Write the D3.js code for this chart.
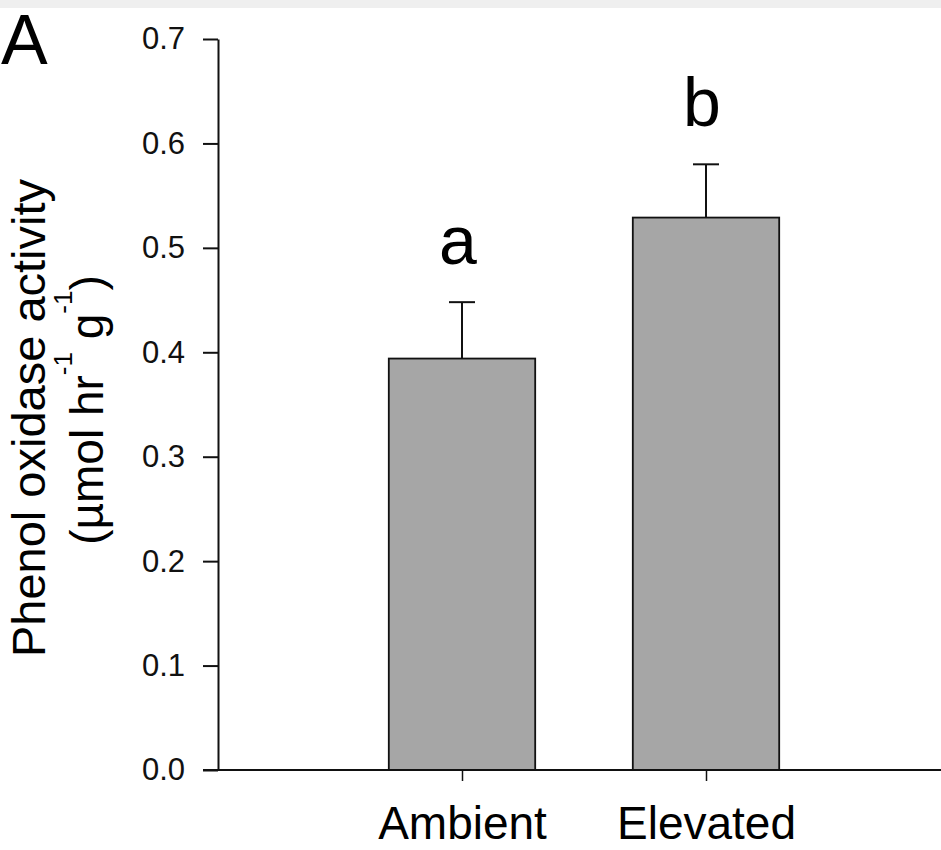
<!DOCTYPE html>
<html>
<head>
<meta charset="utf-8">
<script src="https://cdn.jsdelivr.net/npm/d3@7"></script>
<style>
  body { margin: 0; background: #fff; }
  svg { display: block; overflow: hidden; font-family: Arial, "Liberation Sans", Helvetica, sans-serif; }
</style>
</head>
<body>
<div id="chart"></div>
<script>

const categories = ["Ambient", "Elevated"];
const means = [0.394, 0.529];
const errors = [0.054, 0.051];
const letters = ["a", "b"];
const yTicks = [0.0, 0.1, 0.2, 0.3, 0.4, 0.5, 0.6, 0.7];

function drawChart() {

    const dimesions = {
        width: 941,
        height: 850,
        axisLeft: 218,
        axisRight: 950,
        top: 39,
        bottom: 770
    }

    const svg = d3.select("#chart")
        .append("svg")
        .attr("width", dimesions.width)
        .attr("height", dimesions.height);

    // faint scan strip at the top
    svg.append("rect")
        .attr("x", 0).attr("y", 0)
        .attr("width", dimesions.width).attr("height", 8)
        .attr("fill", "#efefef");

    const xScale = d3.scalePoint()
        .domain(categories)
        .range([dimesions.axisLeft, dimesions.axisRight])
        .padding(1);

    const yScale = d3.scaleLinear()
        .domain([0, 0.7])
        .range([dimesions.bottom, dimesions.top]);

    const barWidth = xScale.step() * 0.6;
    const capWidth = 26;

    const data = categories.map((c, i) => ({ cat: c, mean: means[i], err: errors[i], letter: letters[i] }));

    // error bars (upper only)
    svg.append("g")
        .selectAll("line")
        .data(data)
        .join("line")
        .attr("x1", d => xScale(d.cat))
        .attr("x2", d => xScale(d.cat))
        .attr("y1", d => yScale(d.mean))
        .attr("y2", d => yScale(d.mean + d.err))
        .attr("stroke", "#111")
        .attr("stroke-width", 2);

    svg.append("g")
        .selectAll("line")
        .data(data)
        .join("line")
        .attr("x1", d => xScale(d.cat) - capWidth / 2)
        .attr("x2", d => xScale(d.cat) + capWidth / 2)
        .attr("y1", d => yScale(d.mean + d.err))
        .attr("y2", d => yScale(d.mean + d.err))
        .attr("stroke", "#111")
        .attr("stroke-width", 2);

    // bars
    svg.append("g")
        .selectAll("rect")
        .data(data)
        .join("rect")
        .attr("x", d => xScale(d.cat) - barWidth / 2)
        .attr("y", d => yScale(d.mean))
        .attr("width", barWidth)
        .attr("height", d => yScale(0) - yScale(d.mean))
        .attr("fill", "#a6a6a6")
        .attr("stroke", "#111")
        .attr("stroke-width", 1.8);

    // significance letters
    svg.append("g")
        .selectAll("text")
        .data(data)
        .join("text")
        .attr("x", d => xScale(d.cat) - 4)
        .attr("y", d => yScale(d.mean + d.err) - 38)
        .attr("text-anchor", "middle")
        .attr("font-size", 68)
        .attr("fill", "#000")
        .text(d => d.letter);

    // axes
    const yAxis = d3.axisLeft(yScale)
        .tickValues(yTicks)
        .tickFormat(d3.format(".1f"))
        .tickSize(15)
        .tickSizeOuter(0)
        .tickPadding(18);

    const yAxisGroup = svg.append("g")
        .attr("transform", `translate(${dimesions.axisLeft}, 0)`)
        .call(yAxis);

    yAxisGroup.selectAll("path, line").attr("stroke", "#111").attr("stroke-width", 2);
    yAxisGroup.selectAll("text").attr("font-size", 31).attr("font-family", "inherit").attr("fill", "#111");

    const xAxis = d3.axisBottom(xScale)
        .tickSize(11)
        .tickSizeOuter(0);

    const xAxisGroup = svg.append("g")
        .attr("transform", `translate(0, ${dimesions.bottom})`)
        .call(xAxis);

    xAxisGroup.select(".domain")
        .attr("d", `M${dimesions.axisLeft - 15},0H${dimesions.axisRight}`)
        .attr("stroke", "#111").attr("stroke-width", 2);
    xAxisGroup.selectAll("line").attr("stroke", "#111").attr("stroke-width", 1.5);
    xAxisGroup.selectAll("text")
        .attr("font-size", 46)
        .attr("font-family", "inherit")
        .attr("fill", "#000")
        .attr("dy", 0)
        .attr("y", 69);

    // y label
    svg.append("text")
        .attr("transform", "translate(45, 418) rotate(-90)")
        .attr("text-anchor", "middle")
        .attr("font-size", 47)
        .text("Phenol oxidase activity");

    const unit = svg.append("text")
        .attr("transform", "translate(103, 410) rotate(-90)")
        .attr("text-anchor", "middle")
        .attr("font-size", 46);
    unit.append("tspan").text("(µmol hr");
    unit.append("tspan").attr("font-size", 26).attr("dy", -31).text("-1");
    unit.append("tspan").attr("dy", 31).text(" g");
    unit.append("tspan").attr("font-size", 26).attr("dy", -31).text("-1");
    unit.append("tspan").attr("dy", 31).text(")");

    // panel letter
    svg.append("text")
        .attr("x", 1)
        .attr("y", 64)
        .attr("font-size", 70)
        .text("A");
}

drawChart();
</script>
</body>
</html>
